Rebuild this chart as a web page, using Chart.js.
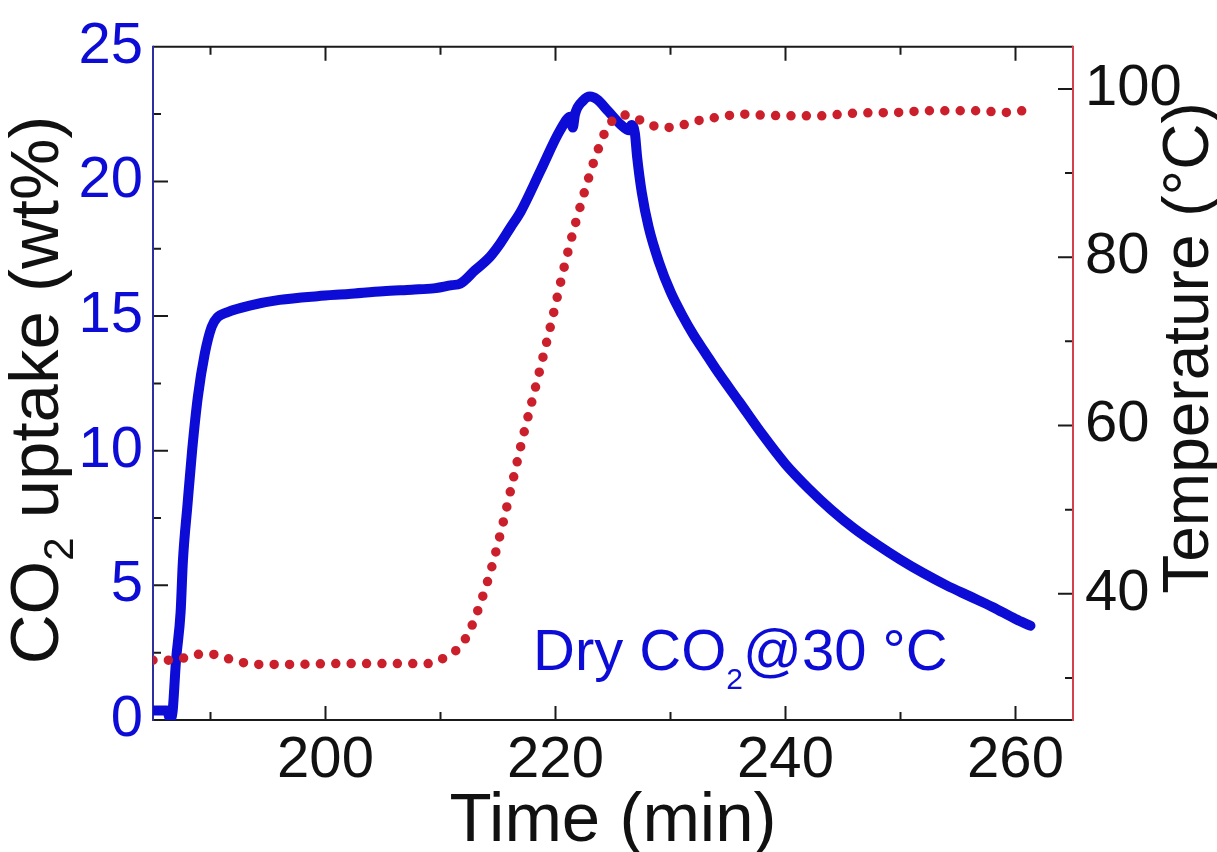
<!DOCTYPE html>
<html>
<head>
<meta charset="utf-8">
<script src="https://cdn.jsdelivr.net/npm/chart.js@4.4.1/dist/chart.umd.min.js"></script>
<style>
  html, body { margin: 0; padding: 0; background: #fff; }
  #wrap { width: 1217px; height: 852px; }
</style>
</head>
<body>
<div id="wrap"><canvas id="tga" width="1217" height="852"></canvas></div>
<script>
// CO2 uptake trace (time in min, uptake in wt%)
var uptakeTime = [185.0, 186.2, 186.5, 186.7, 187.0, 187.4, 187.6, 188.0, 188.4, 188.9, 189.5, 190.1,
  190.6, 191.5, 193.5, 196.0, 199.3, 202.0, 205.0, 207.5, 209.4, 211.0, 211.7, 213.0, 214.3, 215.2,
  216.1, 217.0, 218.7, 220.4, 221.3, 221.5, 221.7, 222.4, 223.0, 223.6, 224.6, 225.7, 226.4, 226.6,
  226.9, 227.1, 227.5, 228.1, 229.0, 230.0, 231.0, 232.0, 233.0, 234.0, 236.0, 238.0, 240.0, 242.0,
  244.0, 246.0, 248.0, 250.0, 252.0, 254.0, 256.0, 258.0, 260.0, 261.3];
var uptakeWt = [0.35, 0.35, 0.05, 0.3, 2.2, 4.0, 5.9, 8.0, 10.0, 12.0, 13.6, 14.6,
  14.95, 15.15, 15.4, 15.6, 15.74, 15.82, 15.92, 15.98, 16.03, 16.15, 16.2, 16.7, 17.2, 17.7,
  18.3, 18.9, 20.4, 21.9, 22.4, 22.0, 22.5, 23.0, 23.15, 23.05, 22.6, 22.1, 21.9, 22.1,
  21.8, 20.9, 19.6, 18.3, 17.0, 15.9, 15.05, 14.3, 13.65, 13.0, 11.8, 10.6, 9.5, 8.6,
  7.8, 7.1, 6.5, 5.95, 5.45, 5.0, 4.6, 4.2, 3.75, 3.5];

// sample temperature (deg C)
var tempTime = [185.0, 186.2, 187.5, 188.8, 190.2, 191.5, 192.9, 194.2, 196.9, 200.9, 206.3, 208.9,
  210.2, 211.3, 212.1, 212.7, 213.6, 214.4, 215.4, 216.3, 217.2, 218.2, 219.6, 221.0, 222.4, 223.6,
  224.6, 225.9, 227.0, 228.3, 229.6, 231.0, 232.3, 233.5, 234.9, 236.3, 237.6, 240.3, 243.0, 245.8,
  249.8, 252.5, 256.6, 259.3, 260.6];
var tempC = [32.1, 32.1, 32.3, 32.8, 32.8, 32.3, 31.8, 31.6, 31.6, 31.7, 31.7, 31.7,
  32.3, 33.2, 34.5, 36.1, 39.4, 42.9, 48.2, 53.5, 58.8, 64.2, 72.0, 80.2, 87.2, 92.4,
  95.6, 96.9, 96.5, 95.7, 95.4, 95.7, 96.2, 96.5, 96.8, 97.0, 96.9, 96.8, 96.8, 97.1,
  97.2, 97.4, 97.4, 97.2, 97.4];

var timeTicks = [200, 220, 240, 260];
var timeMinor = [190, 210, 230, 250];
var wtTicks = [0, 5, 10, 15, 20, 25];
var wtMinor = [2.5, 7.5, 12.5, 17.5, 22.5];
var tempTicks = [40, 60, 80, 100];
var tempMinor = [30, 50, 70, 90];

var BLUE = '#0c0cd6';
var RED = '#cc1f2c';
var FONT = '"Liberation Sans", Arial, sans-serif';

function pts(xs, ys) {
  return xs.map(function (x, i) { return { x: x, y: ys[i] }; });
}

// box, inward ticks, axis titles and the condition label
var framePlugin = {
  id: 'frame',
  beforeDatasetsDraw: function (chart) {
    var ctx = chart.ctx, a = chart.chartArea;
    var sx = chart.scales.x, sy = chart.scales.y, st = chart.scales.y1;
    ctx.save();
    ctx.lineWidth = 2;
    ctx.strokeStyle = '#1a1a1a';
    ctx.beginPath();
    ctx.moveTo(a.left, a.top); ctx.lineTo(a.right, a.top);
    ctx.moveTo(a.left, a.bottom); ctx.lineTo(a.right, a.bottom);
    timeTicks.forEach(function (v) {
      var px = sx.getPixelForValue(v);
      ctx.moveTo(px, a.bottom); ctx.lineTo(px, a.bottom - 14);
      ctx.moveTo(px, a.top); ctx.lineTo(px, a.top + 14);
    });
    timeMinor.forEach(function (v) {
      var px = sx.getPixelForValue(v);
      ctx.moveTo(px, a.bottom); ctx.lineTo(px, a.bottom - 8);
      ctx.moveTo(px, a.top); ctx.lineTo(px, a.top + 8);
    });
    wtTicks.forEach(function (v) {
      var py = sy.getPixelForValue(v);
      ctx.moveTo(a.left, py); ctx.lineTo(a.left + 15, py);
    });
    wtMinor.forEach(function (v) {
      var py = sy.getPixelForValue(v);
      ctx.moveTo(a.left, py); ctx.lineTo(a.left + 8, py);
    });
    tempTicks.forEach(function (v) {
      var py = st.getPixelForValue(v);
      ctx.moveTo(a.right, py); ctx.lineTo(a.right - 15, py);
    });
    tempMinor.forEach(function (v) {
      var py = st.getPixelForValue(v);
      ctx.moveTo(a.right, py); ctx.lineTo(a.right - 8, py);
    });
    ctx.stroke();

    ctx.strokeStyle = '#2e2ea0';
    ctx.beginPath();
    ctx.moveTo(a.left, a.top - 1); ctx.lineTo(a.left, a.bottom + 1);
    ctx.stroke();
    ctx.strokeStyle = '#d4404e';
    ctx.beginPath();
    ctx.moveTo(a.right, a.top - 1); ctx.lineTo(a.right, a.bottom + 1);
    ctx.stroke();
    ctx.restore();
  },
  afterDraw: function (chart) {
    var ctx = chart.ctx, a = chart.chartArea;
    ctx.save();
    ctx.textBaseline = 'alphabetic';
    ctx.textAlign = 'left';

    // x title
    ctx.fillStyle = '#111';
    ctx.font = '69px ' + FONT;
    ctx.textAlign = 'center';
    ctx.fillText('Time (min)', (a.left + a.right) / 2, 841);
    ctx.textAlign = 'left';

    // left title, rotated
    ctx.save();
    ctx.translate(58, 390);
    ctx.rotate(-Math.PI / 2);
    var big = '69px ' + FONT, sub = '42px ' + FONT;
    ctx.font = big;
    var w1 = ctx.measureText('CO').width;
    var w3 = ctx.measureText(' uptake (wt%)').width;
    ctx.font = sub;
    var w2 = ctx.measureText('2').width;
    var x0 = -(w1 + w2 + w3) / 2;
    ctx.font = big;
    ctx.fillText('CO', x0, 0);
    ctx.font = sub;
    ctx.fillText('2', x0 + w1, 15);
    ctx.font = big;
    ctx.fillText(' uptake (wt%)', x0 + w1 + w2, 0);
    ctx.restore();

    // right title, rotated
    ctx.save();
    ctx.translate(1208, 348);
    ctx.rotate(-Math.PI / 2);
    ctx.font = '64px ' + FONT;
    ctx.textAlign = 'center';
    ctx.fillText('Temperature (\u00B0C)', 0, 0);
    ctx.restore();

    // condition label
    ctx.fillStyle = BLUE;
    ctx.font = '58px ' + FONT;
    var lx = 533, ly = 670;
    ctx.fillText('Dry CO', lx, ly);
    var wa = ctx.measureText('Dry CO').width;
    ctx.font = '30px ' + FONT;
    ctx.fillText('2', lx + wa, ly + 19);
    var wb = ctx.measureText('2').width;
    ctx.font = '58px ' + FONT;
    ctx.fillText('@30 \u00B0C', lx + wa + wb, ly);
    ctx.restore();
  }
};

new Chart(document.getElementById('tga'), {
  type: 'line',
  data: {
    datasets: [
      {
        label: 'Temperature',
        data: pts(tempTime, tempC),
        yAxisID: 'y1',
        borderColor: RED,
        borderWidth: 9.5,
        borderDash: [0, 15.4],
        borderCapStyle: 'round',
        pointRadius: 0,
        cubicInterpolationMode: 'monotone',
        fill: false
      },
      {
        label: 'CO2 uptake',
        data: pts(uptakeTime, uptakeWt),
        yAxisID: 'y',
        borderColor: BLUE,
        borderWidth: 10,
        borderJoinStyle: 'round',
        borderCapStyle: 'round',
        pointRadius: 0,
        cubicInterpolationMode: 'monotone',
        fill: false
      }
    ]
  },
  options: {
    responsive: false,
    animation: false,
    layout: { padding: { top: 42, left: 0, right: 0, bottom: 0 } },
    plugins: { legend: { display: false }, tooltip: { enabled: false } },
    scales: {
      x: {
        type: 'linear',
        min: 185,
        max: 265,
        grid: { display: false, drawTicks: false },
        border: { display: false },
        afterBuildTicks: function (s) { s.ticks = timeTicks.map(function (v) { return { value: v }; }); },
        afterFit: function (s) { s.height = 132; },
        ticks: { color: '#111', font: { family: FONT, size: 58 }, padding: 6, maxRotation: 0 }
      },
      y: {
        position: 'left',
        min: 0,
        max: 25,
        grid: { display: false, drawTicks: false },
        border: { display: false },
        afterBuildTicks: function (s) { s.ticks = wtTicks.map(function (v) { return { value: v }; }); },
        afterFit: function (s) { s.width = 153; },
        ticks: { color: BLUE, font: { family: FONT, size: 58 }, padding: 10 }
      },
      y1: {
        position: 'right',
        min: 25,
        max: 105,
        grid: { display: false, drawTicks: false },
        border: { display: false },
        afterBuildTicks: function (s) { s.ticks = tempTicks.map(function (v) { return { value: v }; }); },
        afterFit: function (s) { s.width = 144; },
        ticks: { color: '#111', font: { family: FONT, size: 58 }, padding: 12 }
      }
    }
  },
  plugins: [framePlugin]
});
</script>
</body>
</html>
